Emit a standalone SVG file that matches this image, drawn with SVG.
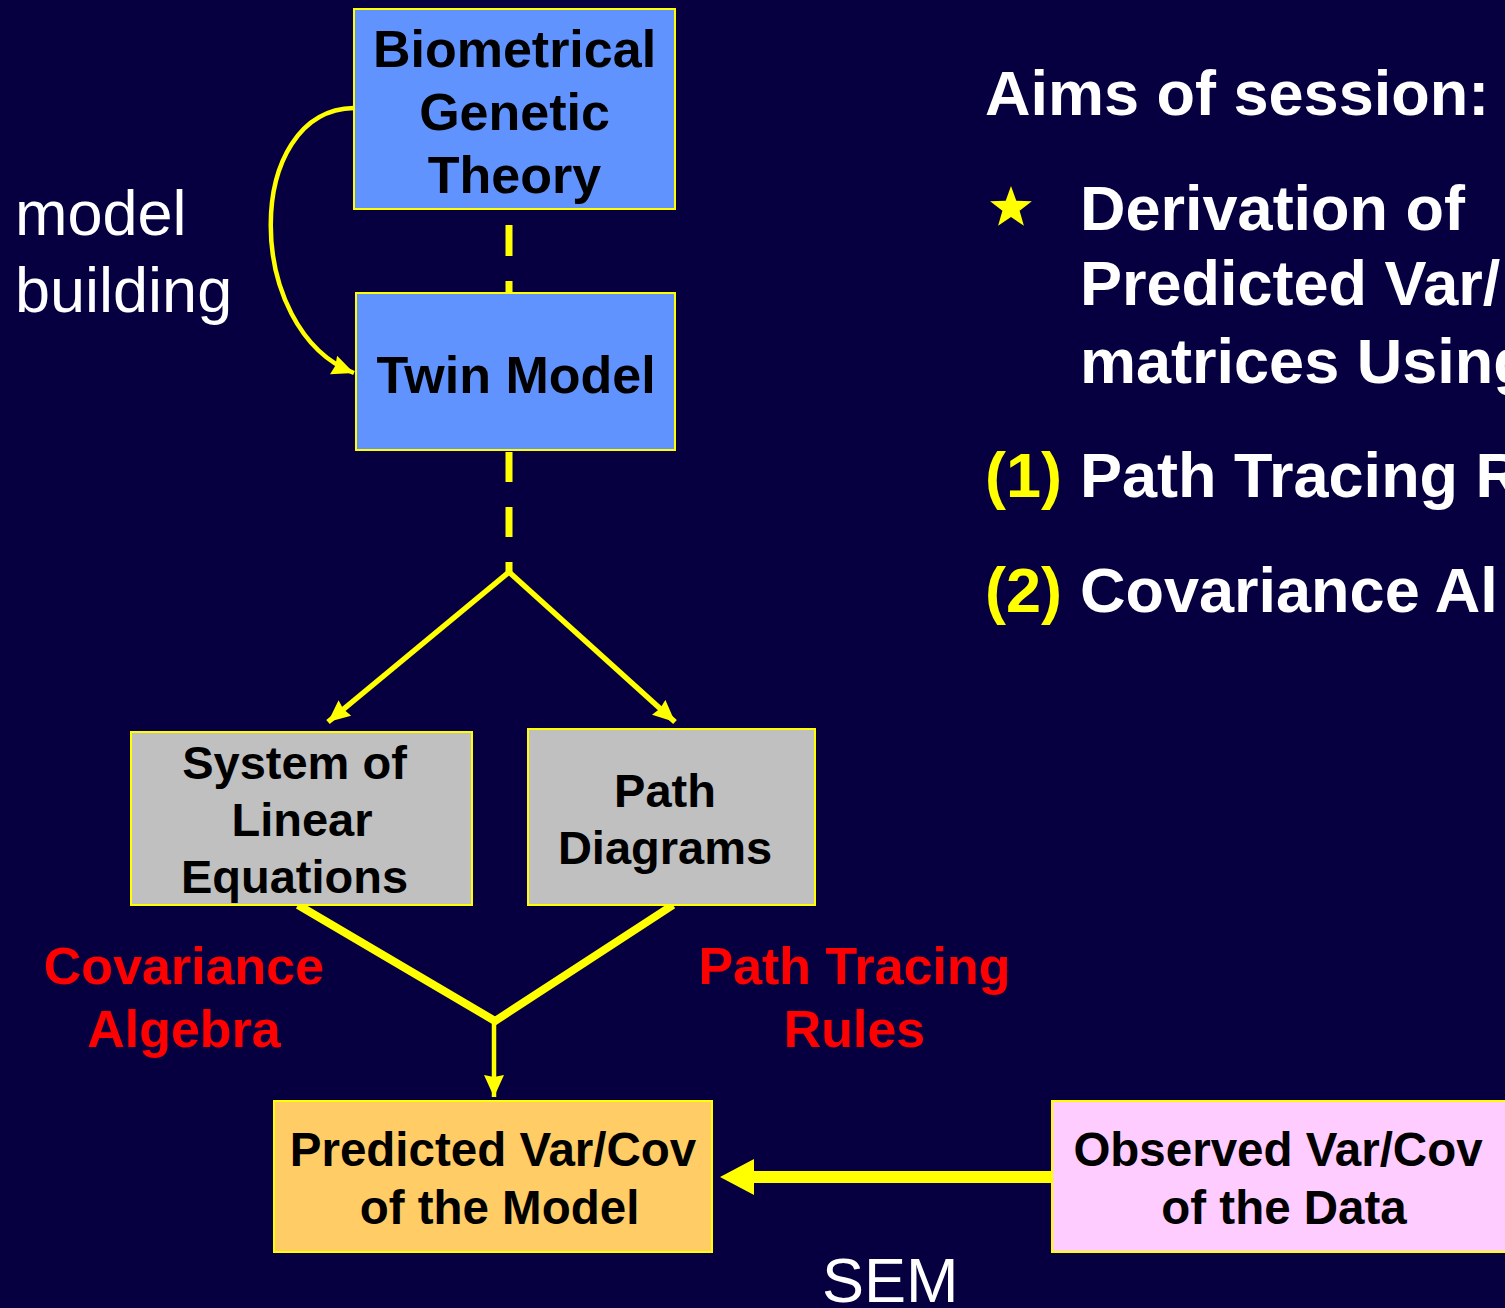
<svg xmlns="http://www.w3.org/2000/svg" width="1505" height="1308" viewBox="0 0 1505 1308">
  <style>
    .box { stroke: #FFFF00; stroke-width: 2; }
    .blue { fill: #6193FF; }
    .grey { fill: #C0C0C0; }
    .orange { fill: #FFCC66; }
    .pink { fill: #FFCCFF; }
    .lbl { font-family: "Liberation Sans", Arial, sans-serif; font-weight: bold; fill: #000000; text-anchor: middle; }
    .red { font-family: "Liberation Sans", Arial, sans-serif; font-weight: bold; fill: #FF0000; text-anchor: middle; font-size: 52px; }
    .white { font-family: "Liberation Sans", Arial, sans-serif; fill: #FFFFFF; font-size: 63px; }
    .wb { font-family: "Liberation Sans", Arial, sans-serif; font-weight: bold; fill: #FFFFFF; font-size: 63px; }
    .yb { fill: #FFFF00; }
    .conn { fill: none; stroke: #FFFF00; }
  </style>
  <defs>
    <marker id="head" markerUnits="userSpaceOnUse" viewBox="0 0 22 20" refX="22" refY="10" markerWidth="22" markerHeight="20" orient="auto">
      <path d="M0,0 L22,10 L0,20 L2,10 Z" fill="#FFFF00"/>
    </marker>
  </defs>

  <rect width="1505" height="1308" fill="#060040"/>

  <!-- connectors -->
  <g id="connectors">
    <line class="conn" x1="509" y1="225" x2="509" y2="293" stroke-width="7" stroke-dasharray="31 25"/>
    <line class="conn" x1="509" y1="452" x2="509" y2="573" stroke-width="7" stroke-dasharray="30 25"/>
    <path class="conn" d="M354,108 C243,110 243,330 354,373" stroke-width="4.5" marker-end="url(#head)"/>
    <line class="conn" x1="509" y1="572" x2="328" y2="722" stroke-width="5.5" marker-end="url(#head)"/>
    <line class="conn" x1="509" y1="572" x2="675" y2="722" stroke-width="5.5" marker-end="url(#head)"/>
    <polyline class="conn" points="298,905 495,1021 673,905" stroke-width="8" stroke-linejoin="miter"/>
    <line class="conn" x1="494" y1="1020" x2="494" y2="1097" stroke-width="4.5" marker-end="url(#head)"/>
    <line class="conn" x1="1052" y1="1177" x2="748" y2="1177" stroke-width="12"/>
    <polygon points="720,1177 754,1159 754,1195" fill="#FFFF00"/>
  </g>

  <!-- boxes -->
  <g id="theory">
    <rect class="box blue" x="354" y="9" width="321" height="200"/>
    <text class="lbl" font-size="52" x="514.5" y="67">Biometrical</text>
    <text class="lbl" font-size="52" x="514.5" y="130">Genetic</text>
    <text class="lbl" font-size="52" x="514.5" y="193">Theory</text>
  </g>
  <g id="twin-model">
    <rect class="box blue" x="356" y="293" width="319" height="157"/>
    <text class="lbl" font-size="52" x="516" y="393">Twin Model</text>
  </g>
  <g id="linear-equations">
    <rect class="box grey" x="131" y="732" width="341" height="173"/>
    <text class="lbl" font-size="47" x="294.5" y="779">System of</text>
    <text class="lbl" font-size="47" x="302" y="836">Linear</text>
    <text class="lbl" font-size="47" x="294.5" y="893">Equations</text>
  </g>
  <g id="path-diagrams">
    <rect class="box grey" x="528" y="729" width="287" height="176"/>
    <text class="lbl" font-size="47" x="665" y="807">Path</text>
    <text class="lbl" font-size="47" x="665" y="864">Diagrams</text>
  </g>
  <g id="predicted">
    <rect class="box orange" x="274" y="1101" width="438" height="151"/>
    <text class="lbl" font-size="47.5" x="493" y="1166">Predicted Var/Cov</text>
    <text class="lbl" font-size="47.5" x="499.5" y="1224">of the Model</text>
  </g>
  <g id="observed">
    <rect class="box pink" x="1052" y="1101" width="460" height="151"/>
    <text class="lbl" font-size="47.5" x="1278" y="1166">Observed Var/Cov</text>
    <text class="lbl" font-size="47.5" x="1284" y="1224">of the Data</text>
  </g>

  <!-- free labels -->
  <g id="labels">
    <text class="white" x="15" y="235">model</text>
    <text class="white" x="15" y="312">building</text>
    <text class="red" x="184" y="984">Covariance</text>
    <text class="red" x="184" y="1047">Algebra</text>
    <text class="red" x="854.5" y="984">Path Tracing</text>
    <text class="red" x="854.5" y="1047">Rules</text>
    <text class="white" x="822" y="1302">SEM</text>
  </g>

  <!-- session aims -->
  <g id="aims">
    <text class="wb" x="985" y="115">Aims of session:</text>
    <polygon class="yb" points="1011,186 1016.3,200.7 1031.9,201.2 1019.6,210.8 1023.9,225.8 1011,217 998.1,225.8 1002.4,210.8 990.1,201.2 1005.7,200.7"/>
    <text class="wb" x="1080" y="230">Derivation of</text>
    <text class="wb" x="1080" y="305">Predicted Var/</text>
    <text class="wb" x="1080" y="383">matrices Using</text>
    <text class="wb" x="985" y="497"><tspan class="yb">(1)</tspan><tspan x="1080">Path Tracing R</tspan></text>
    <text class="wb" x="985" y="612"><tspan class="yb">(2)</tspan><tspan x="1080">Covariance Al</tspan></text>
  </g>
</svg>
